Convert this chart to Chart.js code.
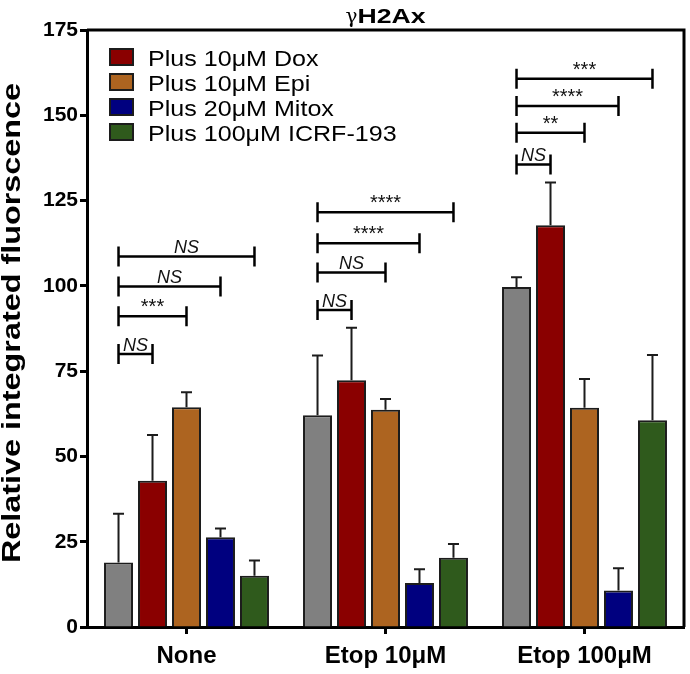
<!DOCTYPE html>
<html><head><meta charset="utf-8">
<script src="https://cdn.jsdelivr.net/npm/chart.js@4.4.1/dist/chart.umd.min.js"></script>
<style>html,body{margin:0;padding:0;background:#fff;} canvas{display:block;}</style>
</head><body>
<canvas id="c" width="690" height="674"></canvas>
<script>
// ---- data ----
const categories = ['None', 'Etop 10μM', 'Etop 100μM'];
const seriesNames = ['Control', 'Plus 10μM Dox', 'Plus 10μM Epi', 'Plus 20μM Mitox', 'Plus 100μM ICRF-193'];
const controlValues = [18.9, 62.1, 99.7];
const doxValues     = [42.9, 72.3, 117.8];
const epiValues     = [64.4, 63.7, 64.3];
const mitoxValues   = [26.3, 12.9, 10.7];
const icrfValues    = [15.0, 20.3, 60.6];
const controlErr = [14.3, 17.5, 2.8];
const doxErr     = [13.4, 15.4, 12.5];
const epiErr     = [4.4, 3.1, 8.4];
const mitoxErr   = [2.6, 4.0, 6.5];
const icrfErr    = [4.5, 4.0, 19.1];
const yTickValues = [0, 25, 50, 75, 100, 125, 150, 175];
// comparisons: [category index, from series, to series, bracket level, label]
const comparisons = [
  [0, 0, 1, 80.0, 'NS'], [0, 0, 2, 91.1, '***'], [0, 0, 3, 99.8, 'NS'], [0, 0, 4, 108.6, 'NS'],
  [1, 0, 1, 92.9, 'NS'], [1, 0, 2, 103.9, 'NS'], [1, 0, 3, 112.5, '****'], [1, 0, 4, 121.6, '****'],
  [2, 0, 1, 135.6, 'NS'], [2, 0, 2, 144.9, '**'], [2, 0, 3, 152.7, '****'], [2, 0, 4, 160.7, '***']
];
const chartTitle = 'H2Ax';
const yAxisTitle = 'Relative integrated fluorscence';

const colors = ['#808080', '#8a0000', '#ad6420', '#00007f', '#2f5a1c'];
const valueSets = [controlValues, doxValues, epiValues, mitoxValues, icrfValues];
const errorSets = [controlErr, doxErr, epiErr, mitoxErr, icrfErr];

const datasets = valueSets.map((vals, i) => ({
  label: seriesNames[i],
  data: vals,
  backgroundColor: colors[i],
  borderColor: '#1c1c1c',
  borderWidth: 2,
  borderSkipped: 'start',
  barPercentage: 0.853,
  categoryPercentage: 0.854
}));

function stretchedText(ctx, text, x, y, sx, align) {
  ctx.save();
  ctx.translate(x, y);
  ctx.scale(sx, 1);
  ctx.textAlign = align || 'left';
  ctx.fillText(text, 0, 0);
  ctx.restore();
}

const decor = {
  id: 'decor',
  beforeDatasetsDraw(chart) {
    const {ctx, chartArea: a} = chart;
    ctx.save();
    ctx.strokeStyle = '#000';
    ctx.lineWidth = 3;
    ctx.beginPath();
    ctx.moveTo(a.left, a.top);
    ctx.lineTo(a.right, a.top);
    ctx.lineTo(a.right, a.bottom);
    ctx.stroke();
    ctx.restore();
  },
  afterDatasetsDraw(chart) {
    const {ctx, chartArea: a} = chart;
    const ys = chart.scales.y;
    ctx.save();
    // error bars
    ctx.strokeStyle = '#1c1c1c';
    ctx.lineWidth = 2;
    chart.data.datasets.forEach((ds, i) => {
      const meta = chart.getDatasetMeta(i);
      meta.data.forEach((bar, j) => {
        const v = ds.data[j], e = errorSets[i][j];
        const y0 = ys.getPixelForValue(v), y1 = ys.getPixelForValue(v + e);
        ctx.beginPath();
        ctx.moveTo(bar.x, y0); ctx.lineTo(bar.x, y1);
        ctx.moveTo(bar.x - 5.5, y1); ctx.lineTo(bar.x + 5.5, y1);
        ctx.stroke();
      });
    });
    // significance brackets
    ctx.strokeStyle = '#000';
    ctx.fillStyle = '#111';
    ctx.lineWidth = 2.5;
    comparisons.forEach(([c, s0, s1, lvl, lab]) => {
      const x0 = chart.getDatasetMeta(s0).data[c].x;
      const x1 = chart.getDatasetMeta(s1).data[c].x;
      const y = ys.getPixelForValue(lvl);
      ctx.beginPath();
      ctx.moveTo(x0, y); ctx.lineTo(x1, y);
      ctx.moveTo(x0, y - 10); ctx.lineTo(x0, y + 10);
      ctx.moveTo(x1, y - 10); ctx.lineTo(x1, y + 10);
      ctx.stroke();
      ctx.textAlign = 'center';
      ctx.textBaseline = 'alphabetic';
      if (lab === 'NS') {
        ctx.font = 'italic 18px "Liberation Sans", Arial, sans-serif';
        ctx.fillText(lab, (x0 + x1) / 2, y - 3.5);
      } else {
        ctx.font = '20px "Liberation Sans", Arial, sans-serif';
        ctx.fillText(lab, (x0 + x1) / 2, y - 3);
      }
    });
    // legend (series 1..4)
    for (let i = 1; i < seriesNames.length; i++) {
      const bx = a.left + 22, by = a.top + 18 + (i - 1) * 25;
      ctx.fillStyle = colors[i];
      ctx.fillRect(bx, by, 25, 18);
      ctx.lineWidth = 2;
      ctx.strokeStyle = '#1c1c1c';
      ctx.strokeRect(bx + 1, by + 1, 23, 16);
      ctx.fillStyle = '#000';
      ctx.font = '22px "Liberation Sans", Arial, sans-serif';
      ctx.textBaseline = 'alphabetic';
      stretchedText(ctx, seriesNames[i], a.left + 61, by + 18, 1.14, 'left');
    }
    ctx.restore();
  },
  afterDraw(chart) {
    const {ctx, chartArea: a} = chart;
    ctx.save();
    ctx.fillStyle = '#000';
    // chart title: gamma + H2Ax
    const cx = (a.left + a.right) / 2;
    ctx.font = 'bold 20px "Liberation Sans", Arial, sans-serif';
    const wMain = ctx.measureText(chartTitle).width * 1.33;
    ctx.font = '20px "DejaVu Serif", "Liberation Serif", serif';
    const wG = ctx.measureText('γ').width;
    const startX = cx - (wMain + wG) / 2;
    ctx.textBaseline = 'alphabetic';
    ctx.textAlign = 'left';
    ctx.fillText('γ', startX, 22.5);
    ctx.font = 'bold 20px "Liberation Sans", Arial, sans-serif';
    stretchedText(ctx, chartTitle, startX + wG, 22.5, 1.33, 'left');
    // y axis title
    ctx.font = 'bold 26px "Liberation Sans", Arial, sans-serif';
    const w = ctx.measureText(yAxisTitle).width;
    const sx = 480 / w;
    ctx.translate(20, 323);
    ctx.rotate(-Math.PI / 2);
    ctx.scale(sx, 1);
    ctx.textAlign = 'center';
    ctx.fillText(yAxisTitle, 0, 0);
    ctx.restore();
  }
};

new Chart(document.getElementById('c'), {
  type: 'bar',
  data: { labels: categories, datasets },
  options: {
    responsive: false,
    animation: false,
    layout: { padding: { top: 30, right: 6, left: 0, bottom: 0 } },
    plugins: { legend: { display: false }, title: { display: false }, tooltip: { enabled: false } },
    scales: {
      x: {
        grid: { display: true, offset: false, drawOnChartArea: false, drawTicks: true, tickLength: 7, tickWidth: 3, tickColor: '#000' },
        border: { display: true, color: '#000', width: 3 },
        ticks: { color: '#000', font: { family: '"Liberation Sans", Arial, sans-serif', size: 24, weight: 'bold' }, padding: 8, maxRotation: 0 },
        afterFit: s => { s.height = 47; }
      },
      y: {
        min: 0, max: 175,
        afterBuildTicks: s => { s.ticks = yTickValues.map(v => ({ value: v })); },
        grid: { display: true, drawOnChartArea: false, drawTicks: true, tickLength: 7, tickWidth: 3, tickColor: '#000' },
        border: { display: true, color: '#000', width: 3 },
        ticks: { color: '#000', font: { family: '"Liberation Sans", Arial, sans-serif', size: 21, weight: 'bold' }, padding: 2 },
        afterFit: s => { s.width = 87; }
      }
    }
  },
  plugins: [decor]
});
</script>
</body></html>
